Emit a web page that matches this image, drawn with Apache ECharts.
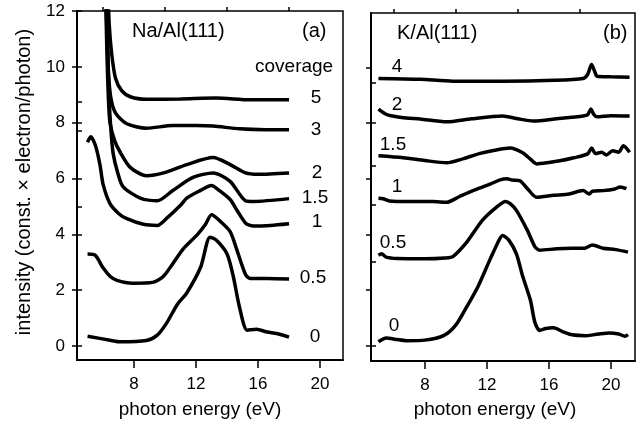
<!DOCTYPE html>
<html>
<head>
<meta charset="utf-8">
<script src="https://cdn.jsdelivr.net/npm/echarts@6/dist/echarts.min.js"></script>
<style>
  html, body { margin: 0; background: #fff; }
  #chart { width: 644px; height: 426px; }
</style>
</head>
<body>
<div id="chart"></div>
<script>
// photon energy (eV), intensity -- Na/Al(111), by coverage
const na0 = [[5.0,0.35],[6.45,0.21],[7.1,0.15],[8.8,0.2],[9.5,0.39],[10.1,0.82],[10.8,1.5],[11.4,1.9],[12.3,2.83],[12.9,3.9],[13.3,3.8],[14.0,3.3],[14.4,2.5],[14.8,1.4],[15.3,0.57],[15.9,0.6],[16.6,0.5],[17.2,0.45],[18.0,0.32]];
const na05 = [[5.0,3.3],[5.5,3.25],[6.0,2.8],[6.45,2.5],[6.9,2.35],[7.9,2.25],[9.2,2.28],[9.9,2.5],[10.5,2.95],[11.2,3.5],[12.1,4.0],[12.6,4.35],[13.0,4.7],[13.5,4.5],[14.2,4.1],[14.6,3.5],[15.2,2.55],[15.5,2.42],[16.6,2.42],[18.0,2.4]];
const na1 = [[5.0,7.3],[5.2,7.5],[5.5,7.2],[5.8,6.5],[6.0,5.8],[6.45,5.1],[7.0,4.75],[7.5,4.57],[8.6,4.36],[9.5,4.32],[10.1,4.57],[11.0,5.04],[11.4,5.3],[12.2,5.55],[13.0,5.75],[13.5,5.57],[14.2,5.25],[14.6,4.9],[15.2,4.4],[15.7,4.3],[16.8,4.32],[18.0,4.38]];
const na15 = [[6.15,13],[6.3,10.5],[6.4,8.8],[6.5,7.8],[6.65,6.9],[6.95,6.2],[7.3,5.7],[8.4,5.3],[9.5,5.2],[10.5,5.57],[11.8,6.04],[13.1,6.2],[14.2,5.9],[15.2,5.2],[15.7,5.18],[18.0,5.28]];
const na2 = [[6.15,13],[6.25,10.5],[6.35,8.8],[6.45,8.0],[6.75,7.35],[7.1,6.95],[7.75,6.4],[8.8,6.1],[9.9,6.2],[11.4,6.5],[13.1,6.75],[14.2,6.5],[15.2,6.2],[16.0,6.15],[18.0,6.2]];
const na3 = [[6.2,13],[6.3,11],[6.35,9.8],[6.5,8.9],[6.8,8.35],[7.5,7.97],[8.8,7.8],[10.5,7.9],[12.0,7.9],[13.1,7.88],[14.8,7.78],[16.5,7.75],[18.0,7.75]];
const na5 = [[6.3,13],[6.4,11.5],[6.55,10.5],[6.8,9.6],[7.2,9.15],[7.8,8.92],[8.8,8.84],[11.0,8.85],[13.3,8.88],[15.5,8.82],[18.0,8.82]];

// K/Al(111), by coverage
const k0 = [[5.0,0.14],[5.5,0.28],[6.2,0.22],[6.8,0.18],[8.0,0.2],[9.2,0.36],[10.0,0.75],[10.7,1.4],[11.4,2.1],[12.2,3.1],[12.7,3.7],[13.0,3.96],[13.4,3.8],[13.9,3.3],[14.3,2.5],[14.8,1.64],[15.1,0.82],[15.4,0.55],[15.8,0.62],[16.3,0.64],[16.9,0.5],[17.5,0.39],[18.4,0.36],[19.2,0.42],[19.9,0.46],[20.5,0.42],[20.9,0.34],[21.1,0.4]];
const k05 = [[5.0,3.25],[5.2,3.3],[5.5,3.18],[6.2,3.13],[8.0,3.12],[9.3,3.15],[9.8,3.2],[10.7,3.72],[11.7,4.5],[12.6,4.97],[13.2,5.18],[13.5,5.1],[13.9,4.86],[14.6,4.15],[15.1,3.55],[15.4,3.43],[16.5,3.48],[17.4,3.5],[18.3,3.5],[18.8,3.62],[19.5,3.5],[20.3,3.45],[21.1,3.36]];
const k1 = [[5.0,5.3],[5.3,5.28],[5.7,5.2],[7.0,5.18],[8.5,5.18],[9.4,5.15],[10.2,5.35],[11.1,5.57],[12.2,5.8],[12.8,5.95],[13.3,6.0],[13.6,5.95],[14.1,5.93],[14.6,5.65],[15.2,5.33],[16.3,5.4],[17.3,5.45],[18.2,5.57],[18.6,5.45],[18.8,5.55],[19.5,5.57],[20.2,5.62],[20.6,5.7],[21.0,5.64]];
const k15 = [[5.0,6.82],[6.6,6.75],[8.0,6.65],[9.4,6.57],[10.5,6.72],[11.5,6.9],[12.5,7.02],[13.5,7.1],[14.3,6.93],[14.8,6.7],[15.2,6.53],[16.0,6.58],[16.7,6.64],[17.6,6.75],[18.5,6.89],[18.75,7.1],[19.0,6.9],[19.4,6.95],[19.7,6.85],[20.1,7.0],[20.5,6.95],[20.8,7.18],[21.2,6.95]];
const k2 = [[5.0,8.5],[5.55,8.3],[6.5,8.2],[7.7,8.14],[9.4,8.04],[11.0,8.15],[13.0,8.25],[14.0,8.15],[15.0,8.07],[16.5,8.15],[18.2,8.25],[18.5,8.3],[18.7,8.5],[18.9,8.3],[19.1,8.22],[20.0,8.26],[21.2,8.25]];
const k4 = [[5.0,9.6],[7.7,9.57],[9.8,9.5],[13.0,9.5],[16.3,9.53],[18.2,9.6],[18.5,9.75],[18.75,10.1],[18.95,9.85],[19.1,9.68],[20.0,9.66],[21.2,9.64]];

// ticks
const xMajor = [8, 12, 16, 20];
const xMinor = [6, 10, 14, 18];
const yMajorA = [0, 2, 4, 6, 8, 10, 12];
const yInnerA = [0, 2, 4, 5, 6, 7.7, 8, 8.75, 10, 12];
const yMajorB = [0, 2, 4, 6, 8, 10];
const yInnerB = [0, 3, 5.05, 6.45, 8, 9.45];

const FONT = '"Liberation Sans", Arial, sans-serif';
const chart = echarts.init(document.getElementById('chart'), null, { renderer: 'canvas' });

const line = (data, xi, yi) => ({
  type: 'line', data, xAxisIndex: xi, yAxisIndex: yi,
  showSymbol: false, smooth: 0.25, silent: true,
  lineStyle: { color: '#000', width: 3.5 }
});

const xMain = (grid, min, max) => ({
  type: 'value', gridIndex: grid, min, max,
  axisLine: { onZero: false, lineStyle: { color: '#000', width: 2 } },
  axisTick: { customValues: xMajor, length: 8, lineStyle: { color: '#000', width: 1.5 } },
  axisLabel: { customValues: xMajor, color: '#000', fontSize: 17, fontFamily: FONT, margin: 16 },
  splitLine: { show: false }
});
const xSub = (grid, min, max) => ({
  type: 'value', gridIndex: grid, min, max,
  axisLine: { show: false, onZero: false },
  axisTick: { customValues: xMinor, length: 4, lineStyle: { color: '#000', width: 1.5 } },
  axisLabel: { show: false }, splitLine: { show: false }
});
const yAxisOf = (grid, min, max, ticks, inside, labels) => ({
  type: 'value', gridIndex: grid, min, max, position: 'left',
  axisLine: { show: !inside, onZero: false, lineStyle: { color: '#000', width: 2 } },
  axisTick: { customValues: ticks, inside, length: 5, lineStyle: { color: '#000', width: 1.5 } },
  axisLabel: labels ? { customValues: ticks, color: '#000', fontSize: 17, fontFamily: FONT, margin: 12 } : { show: false },
  splitLine: { show: false }
});

const txt = (text, x, y, size, align, rot) => ({
  type: 'text', x, y, rotation: rot || 0, silent: true,
  style: { text, fill: '#000', font: size + 'px ' + FONT, textAlign: align || 'left', textVerticalAlign: 'middle' }
});

chart.setOption({
  animation: false,
  backgroundColor: '#fff',
  grid: [
    { left: 77, top: 11, right: 301, bottom: 66, show: true, borderColor: '#000', borderWidth: 1.5 },
    { left: 371, top: 13, right: 9, bottom: 65, show: true, borderColor: '#000', borderWidth: 1.5 }
  ],
  xAxis: [
    xMain(0, 4.32, 21.48), xSub(0, 4.32, 21.48),
    xMain(1, 4.52, 21.55), xSub(1, 4.52, 21.55)
  ],
  yAxis: [
    yAxisOf(0, -0.5, 12, yMajorA, false, true),
    yAxisOf(0, -0.5, 12, yInnerA, true, false),
    yAxisOf(1, -0.55, 11.95, yMajorB, false, false),
    yAxisOf(1, -0.55, 11.95, yInnerB, true, false)
  ],
  series: [
    line(na0, 0, 0), line(na05, 0, 0), line(na1, 0, 0), line(na15, 0, 0),
    line(na2, 0, 0), line(na3, 0, 0), line(na5, 0, 0),
    line(k0, 2, 2), line(k05, 2, 2), line(k1, 2, 2), line(k15, 2, 2),
    line(k2, 2, 2), line(k4, 2, 2)
  ],
  graphic: [
    txt('intensity (const. \u00d7 electron/photon)', 24, 182, 20, 'center', Math.PI / 2),
    txt('photon energy (eV)', 200, 410, 19, 'center'),
    txt('photon energy (eV)', 495, 410, 19, 'center'),
    txt('Na/Al(111)', 132, 31, 20),
    txt('(a)', 302, 31, 20),
    txt('coverage', 255, 67, 19),
    txt('5', 316, 98, 19, 'center'),
    txt('3', 316, 130, 19, 'center'),
    txt('2', 317, 173, 19, 'center'),
    txt('1.5', 315, 198, 19, 'center'),
    txt('1', 317, 222, 19, 'center'),
    txt('0.5', 313, 278, 19, 'center'),
    txt('0', 315, 337, 19, 'center'),
    txt('K/Al(111)', 397, 33, 20),
    txt('(b)', 603, 33, 20),
    txt('4', 397, 67, 19, 'center'),
    txt('2', 397, 105, 19, 'center'),
    txt('1.5', 393, 145, 19, 'center'),
    txt('1', 397, 187, 19, 'center'),
    txt('0.5', 393, 243, 19, 'center'),
    txt('0', 394, 326, 19, 'center')
  ]
});
</script>
</body>
</html>
